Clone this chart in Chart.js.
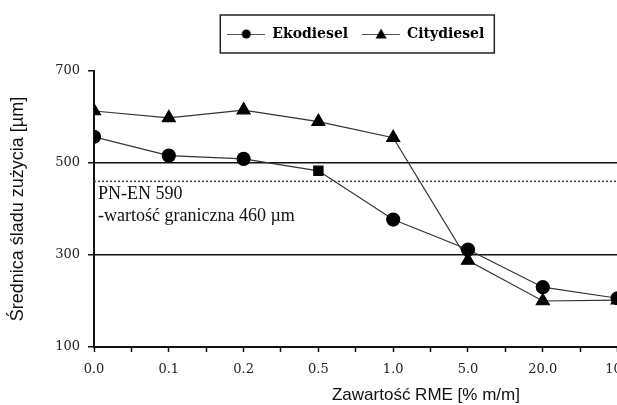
<!DOCTYPE html>
<html>
<head>
<meta charset="utf-8">
<script src="https://cdn.jsdelivr.net/npm/chart.js@4.4.0/dist/chart.umd.min.js"></script>
<style>
  html, body { margin: 0; padding: 0; background: #fff; overflow: hidden; }
  #wrap { width: 640px; height: 405px; }
</style>
</head>
<body>
<div id="wrap"><canvas id="chart"></canvas></div>
<script>
var xLabels = ["0.0", "0.1", "0.2", "0.5", "1.0", "5.0", "20.0", "100"];
var ekodiesel = [557, 516, 509, 483, 377, 312, 230, 206];
var citydiesel = [613, 598, 615, 590, 555, 288, 200, 202];
var ekoStyles = ["circle", "circle", "circle", "rect", "circle", "circle", "circle", "circle"];
var limitValue = 460;
var yTicks = [100, 300, 500, 700];

function toPoints(values) {
    return values.map(function (v, i) { return { x: i, y: v }; });
}

function legendIcon(style) {
    var c = document.createElement("canvas");
    c.width = 38; c.height = 14;
    var g = c.getContext("2d");
    g.strokeStyle = "#555";
    g.lineWidth = 1;
    g.beginPath(); g.moveTo(0, 7.5); g.lineTo(38, 7.5); g.stroke();
    g.fillStyle = "#000";
    g.beginPath();
    if (style === "circle") {
        g.arc(19, 7, 4.5, 0, Math.PI * 2);
    } else {
        g.moveTo(19, 1.5); g.lineTo(24.5, 11.5); g.lineTo(13.5, 11.5); g.closePath();
    }
    g.fill();
    return c;
}
var icons = [legendIcon("circle"), legendIcon("triangle")];

// frame round the legend, plus extra room under it
var legendBox = {
    id: "legendBox",
    afterInit: function (chart) {
        var lg = chart.legend;
        if (!lg || lg._padded) return;
        var fit = lg.fit;
        lg.fit = function () {
            fit.call(this);
            this.height += 20;
        };
        lg._padded = true;
    },
    afterDraw: function (chart) {
        var boxes = chart.legend && chart.legend.legendHitBoxes;
        if (!boxes || !boxes.length) return;
        var l = Infinity, r = -Infinity, t = Infinity, b = -Infinity;
        boxes.forEach(function (h) {
            l = Math.min(l, h.left); r = Math.max(r, h.left + h.width);
            t = Math.min(t, h.top); b = Math.max(b, h.top + h.height);
        });
        var ctx = chart.ctx;
        ctx.save();
        ctx.strokeStyle = "#222";
        ctx.lineWidth = 1.5;
        ctx.strokeRect(l - 7, t - 12, r - l + 17, b - t + 24);
        ctx.restore();
    }
};

var notes = {
    id: "notes",
    afterDatasetsDraw: function (chart) {
        var ctx = chart.ctx, xs = chart.scales.x, ys = chart.scales.y;
        var y0 = ys.getPixelForValue(limitValue);
        ctx.save();
        ctx.fillStyle = "#111";
        ctx.font = "18px 'Liberation Serif'";
        ctx.textAlign = "left";
        ctx.textBaseline = "alphabetic";
        ctx.fillText("PN-EN 590", xs.left + 4, y0 + 18);
        ctx.fillText("-wartość graniczna 460 µm", xs.left + 4, y0 + 40);
        ctx.font = "17px 'Liberation Sans'";
        ctx.textAlign = "center";
        ctx.fillText("Zawartość RME [% m/m]", xs.left + (xs.right - xs.left) * 0.634, 400);
        ctx.restore();
    }
};

new Chart(document.getElementById("chart"), {
    type: "line",
    data: {
        datasets: [
            {
                label: "Ekodiesel",
                data: toPoints(ekodiesel),
                borderColor: "#333",
                borderWidth: 1.2,
                pointStyle: ekoStyles,
                pointRadius: 6.5,
                pointBackgroundColor: "#000",
                pointBorderColor: "#000",
                fill: false
            },
            {
                label: "Citydiesel",
                data: toPoints(citydiesel),
                borderColor: "#333",
                borderWidth: 1.2,
                pointStyle: "triangle",
                pointRadius: 7.5,
                pointBackgroundColor: "#000",
                pointBorderColor: "#000",
                fill: false
            },
            {
                label: "limit",
                data: [{ x: 0, y: limitValue }, { x: xLabels.length - 1, y: limitValue }],
                borderColor: "#444",
                borderWidth: 1.5,
                borderDash: [2, 2],
                pointRadius: 0,
                fill: false
            }
        ]
    },
    options: {
        responsive: true,
        maintainAspectRatio: false,
        animation: false,
        layout: { padding: { top: 13, left: 0, right: 0, bottom: 0 } },
        plugins: {
            tooltip: { enabled: false },
            legend: {
                position: "top",
                fullSize: false,
                labels: {
                    usePointStyle: true,
                    pointStyleWidth: 38,
                    padding: 14,
                    color: "#111",
                    font: { family: "'DejaVu Serif'", size: 14, weight: "bold" },
                    filter: function (item) { return item.datasetIndex < 2; },
                    generateLabels: function (chart) {
                        return chart.data.datasets.map(function (ds, i) {
                            return {
                                text: ds.label,
                                datasetIndex: i,
                                pointStyle: icons[i] || "line",
                                fillStyle: "#000",
                                strokeStyle: "#000",
                                lineWidth: 0,
                                hidden: false
                            };
                        });
                    }
                }
            }
        },
        scales: {
            x: {
                type: "linear",
                min: 0,
                max: xLabels.length - 1,
                afterFit: function (s) { s.height = 58; },
                border: { display: true, color: "#111", width: 2 },
                grid: { drawOnChartArea: false, drawTicks: true, tickLength: 5, tickColor: "#111", tickWidth: 1.5 },
                ticks: {
                    stepSize: 0.5,
                    autoSkip: false,
                    maxRotation: 0,
                    padding: 10,
                    color: "#222",
                    font: { family: "'DejaVu Serif'", size: 13 },
                    callback: function (v) { return Number.isInteger(v) ? xLabels[v] : ""; }
                }
            },
            y: {
                min: 100,
                max: 700,
                afterFit: function (s) { s.width = 94; },
                afterBuildTicks: function (s) { s.ticks = yTicks.map(function (v) { return { value: v }; }); },
                border: { display: true, color: "#111", width: 2 },
                grid: {
                    color: function (c) {
                        return (c.tick && (c.tick.value === 300 || c.tick.value === 500)) ? "#111" : "rgba(0,0,0,0)";
                    },
                    lineWidth: 1.5,
                    tickLength: 6,
                    tickColor: "#111",
                    tickWidth: 1.5
                },
                ticks: {
                    padding: 8,
                    color: "#222",
                    font: { family: "'DejaVu Serif'", size: 13 }
                },
                title: {
                    display: true,
                    text: "Średnica śladu zużycia [µm]",
                    color: "#111",
                    padding: { top: 7, bottom: 0 },
                    font: { family: "'Liberation Sans'", size: 18 }
                }
            }
        }
    },
    plugins: [legendBox, notes]
});
</script>
</body>
</html>
